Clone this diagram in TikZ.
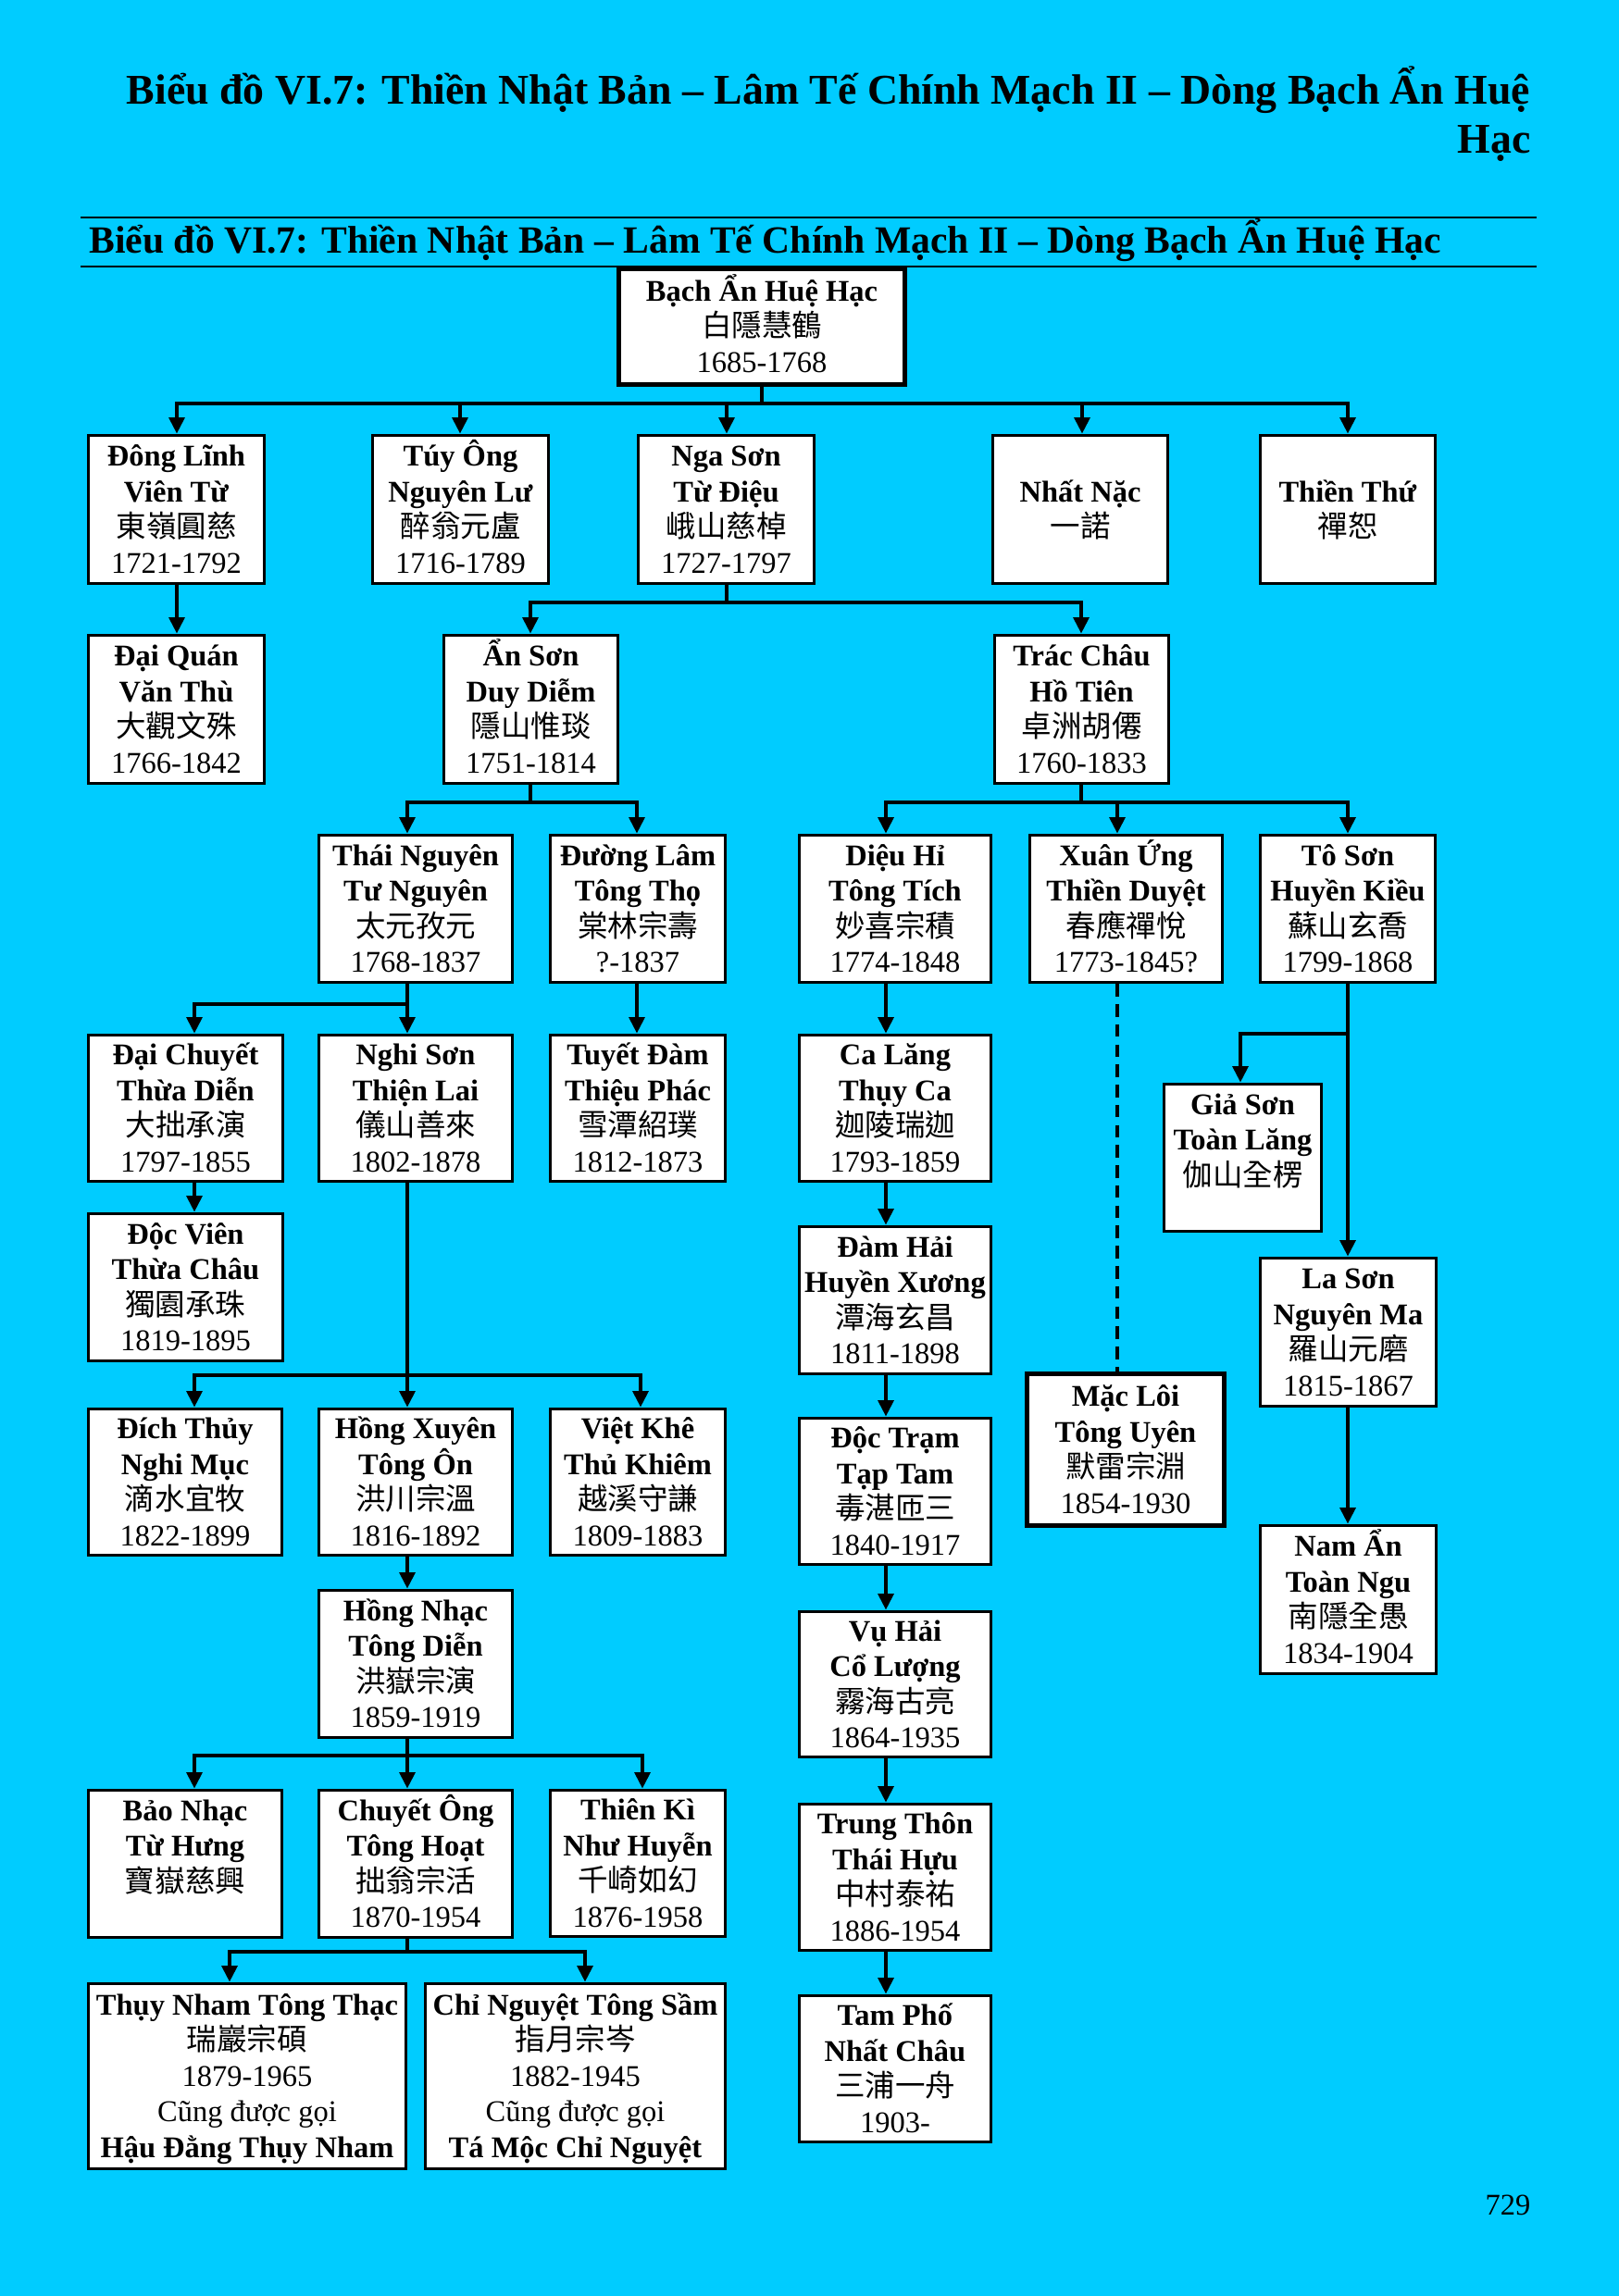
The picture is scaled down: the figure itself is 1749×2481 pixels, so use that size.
\documentclass[tikz,border=0pt]{standalone}
\usepackage{fontspec}
\setmainfont{Liberation Serif}
\newfontfamily\cjk{Noto Sans CJK TC}
\usetikzlibrary{arrows.meta}
\definecolor{bg}{RGB}{0,204,255}
\newcommand{\zst}{\rule[-2.88pt]{0pt}{13.09pt}}
\newcommand{\znm}[1]{\zst\textbf{#1}}
\newcommand{\zch}[1]{\zst{\cjk #1}}
\newcommand{\zyr}[1]{\zst #1}
\newcommand{\zfour}[4]{\znm{#1}\\\znm{#2}\\\zch{#3}\\\zyr{#4}}
\newcommand{\zbx}[7][]{\node[box,#1,minimum width={(#4-#3-3)*0.34pt},minimum height={(#6-#5-3)*0.34pt}] (#2) at ({(#3+#4)/2},{(#5+#6)/2}) {#7};}
\tikzset{
  box/.style={draw=black, fill=white, line width=1.2pt, align=center, inner sep=0pt,
    font=\fontsize{11.05pt}{13.09pt}\selectfont},
  thickbox/.style={line width=1.8pt},
  conn/.style={line width=1.5pt},
  arr/.style={conn,-{Triangle[length=6pt,width=5.6pt]}},
  arrtwo/.style={conn,{Triangle[length=6pt,width=5.6pt]}-{Triangle[length=6pt,width=5.6pt]}},
  dashconn/.style={line width=1.1pt, dash pattern=on 4.6pt off 2.8pt},
  titleA/.style={inner sep=0pt, font=\fontsize{15.57pt}{18pt}\selectfont\bfseries},
  titleB/.style={inner sep=0pt, font=\fontsize{14.15pt}{17pt}\selectfont\bfseries},
  rulestyle/.style={line width=0.7pt},
}
\begin{document}
\begin{tikzpicture}[x=0.34pt,y=-0.34pt]
\useasboundingbox (0,0) rectangle (1749,2481);
\fill[bg] (0,0) rectangle (1749,2481);

% titles
\node[titleA, anchor=base east] (t1a) at (1654,112) {Biểu đồ VI.7: Thiền Nhật Bản – Lâm Tế Chính Mạch II – Dòng Bạch Ẩn Huệ};
\node[titleA, anchor=base east] (t1b) at (1654,165) {Hạc};
\draw[rulestyle] (87,235) -- (1660,235);
\draw[rulestyle] (87,288) -- (1660,288);
\node[titleB, anchor=base west] (t2) at (96,273) {Biểu đồ VI.7: Thiền Nhật Bản – Lâm Tế Chính Mạch II – Dòng Bạch Ẩn Huệ Hạc};

% boxes
\zbx[thickbox]{root}{667}{979}{289}{417}{\znm{Bạch Ẩn Huệ Hạc}\\\zch{白隱慧鶴}\\\zyr{1685-1768}}
\zbx{dl}{94}{287}{469}{632}{\zfour{Đông Lĩnh}{Viên Từ}{東嶺圓慈}{1721-1792}}
\zbx{ty}{401}{594}{469}{632}{\zfour{Túy Ông}{Nguyên Lư}{醉翁元盧}{1716-1789}}
\zbx{ns}{688}{881}{469}{632}{\zfour{Nga Sơn}{Từ Điệu}{峨山慈棹}{1727-1797}}
\zbx{nn}{1071}{1263}{469}{632}{\znm{Nhất Nặc}\\\zch{一諾}}
\zbx{tt}{1360}{1552}{469}{632}{\znm{Thiền Thứ}\\\zch{禪恕}}

\zbx{dq}{94}{287}{685}{848}{\zfour{Đại Quán}{Văn Thù}{大觀文殊}{1766-1842}}
\zbx{as}{478}{669}{685}{848}{\zfour{Ẩn Sơn}{Duy Diễm}{隱山惟琰}{1751-1814}}
\zbx{tc}{1073}{1264}{685}{848}{\zfour{Trác Châu}{Hồ Tiên}{卓洲胡僊}{1760-1833}}

\zbx{tn}{343}{555}{901}{1063}{\zfour{Thái Nguyên}{Tư Nguyên}{太元孜元}{1768-1837}}
\zbx{dlam}{593}{785}{901}{1063}{\zfour{Đường Lâm}{Tông Thọ}{棠林宗壽}{?-1837}}
\zbx{dh}{862}{1072}{901}{1063}{\zfour{Diệu Hỉ}{Tông Tích}{妙喜宗積}{1774-1848}}
\zbx{xu}{1111}{1322}{901}{1063}{\zfour{Xuân Ứng}{Thiền Duyệt}{春應禪悅}{1773-1845?}}
\zbx{ts}{1360}{1552}{901}{1063}{\zfour{Tô Sơn}{Huyền Kiều}{蘇山玄喬}{1799-1868}}

\zbx{dc}{94}{307}{1117}{1278}{\zfour{Đại Chuyết}{Thừa Diễn}{大拙承演}{1797-1855}}
\zbx{nghi}{343}{555}{1117}{1278}{\zfour{Nghi Sơn}{Thiện Lai}{儀山善來}{1802-1878}}
\zbx{tdam}{593}{785}{1117}{1278}{\zfour{Tuyết Đàm}{Thiệu Phác}{雪潭紹璞}{1812-1873}}
\zbx{cl}{862}{1072}{1117}{1278}{\zfour{Ca Lăng}{Thụy Ca}{迦陵瑞迦}{1793-1859}}
\zbx{gs}{1256}{1429}{1170}{1332}{\znm{Giả Sơn}\\\znm{Toàn Lăng}\\\zch{伽山全楞}\\\zst}

\zbx{dv}{94}{307}{1310}{1472}{\zfour{Độc Viên}{Thừa Châu}{獨園承珠}{1819-1895}}
\zbx{dhai}{862}{1072}{1324}{1486}{\zfour{Đàm Hải}{Huyền Xương}{潭海玄昌}{1811-1898}}
\zbx{ls}{1360}{1553}{1358}{1521}{\zfour{La Sơn}{Nguyên Ma}{羅山元磨}{1815-1867}}

\zbx{dt}{94}{306}{1521}{1682}{\zfour{Đích Thủy}{Nghi Mục}{滴水宜牧}{1822-1899}}
\zbx{hx}{343}{555}{1521}{1682}{\zfour{Hồng Xuyên}{Tông Ôn}{洪川宗溫}{1816-1892}}
\zbx{vk}{593}{785}{1521}{1682}{\zfour{Việt Khê}{Thủ Khiêm}{越溪守謙}{1809-1883}}
\zbx{dtram}{862}{1072}{1531}{1692}{\zfour{Độc Trạm}{Tạp Tam}{毒湛匝三}{1840-1917}}
\zbx[thickbox]{ml}{1108}{1324}{1483}{1650}{\zfour{Mặc Lôi}{Tông Uyên}{默雷宗淵}{1854-1930}}

\zbx{hn}{343}{555}{1717}{1879}{\zfour{Hồng Nhạc}{Tông Diễn}{洪嶽宗演}{1859-1919}}
\zbx{vh}{862}{1072}{1740}{1900}{\zfour{Vụ Hải}{Cổ Lượng}{霧海古亮}{1864-1935}}
\zbx{na}{1360}{1553}{1647}{1810}{\zfour{Nam Ẩn}{Toàn Ngu}{南隱全愚}{1834-1904}}

\zbx{bn}{94}{306}{1933}{2095}{\znm{Bảo Nhạc}\\\znm{Từ Hưng}\\\zch{寶嶽慈興}\\\zst}
\zbx{co}{343}{555}{1933}{2095}{\zfour{Chuyết Ông}{Tông Hoạt}{拙翁宗活}{1870-1954}}
\zbx{tk}{593}{785}{1933}{2094}{\zfour{Thiên Kì}{Như Huyễn}{千崎如幻}{1876-1958}}
\zbx{tth}{862}{1072}{1948}{2109}{\zfour{Trung Thôn}{Thái Hựu}{中村泰祐}{1886-1954}}

\zbx{tnh}{94}{440}{2142}{2345}{\znm{Thụy Nham Tông Thạc}\\\zch{瑞巖宗碩}\\\zyr{1879-1965}\\\zyr{Cũng được gọi}\\\znm{Hậu Đằng Thụy Nham}}
\zbx{cn}{458}{785}{2142}{2345}{\znm{Chỉ Nguyệt Tông Sầm}\\\zch{指月宗岑}\\\zyr{1882-1945}\\\zyr{Cũng được gọi}\\\znm{Tá Mộc Chỉ Nguyệt}}
\zbx{tp}{862}{1072}{2155}{2316}{\zfour{Tam Phố}{Nhất Châu}{三浦一舟}{1903-}}

% page number
\node[inner sep=0pt, anchor=base east, font=\fontsize{11.05pt}{13pt}\selectfont] (pg) at (1654,2393) {729};

% connectors: root
\coordinate (r0) at (823,436);
\coordinate (r1) at (191,436);
\coordinate (r2) at (497,436);
\coordinate (r3) at (785,436);
\coordinate (r4) at (1169,436);
\coordinate (r5) at (1456,436);
\draw[conn] (root.south -| r0) -- (r0);
\draw[arrtwo] (dl.north -| r1) -- (r1) -- (r5) -- (tt.north -| r5);
\draw[arr] (r2) -- (ty.north -| r2);
\draw[arr] (r3) -- (ns.north -| r3);
\draw[arr] (r4) -- (nn.north -| r4);

% dl -> dq
\draw[arr] (dl.south -| r1) -- (dq.north -| r1);

% ns -> as, tc
\coordinate (n0) at (785,651);
\coordinate (n1) at (573,651);
\coordinate (n2) at (1168,651);
\draw[conn] (ns.south -| n0) -- (n0);
\draw[arrtwo] (as.north -| n1) -- (n1) -- (n2) -- (tc.north -| n2);

% as -> tn, dlam
\coordinate (a0) at (573,867);
\coordinate (a1) at (440,867);
\coordinate (a2) at (688,867);
\draw[conn] (as.south -| a0) -- (a0);
\draw[arrtwo] (tn.north -| a1) -- (a1) -- (a2) -- (dlam.north -| a2);

% tc -> dh, xu, ts
\coordinate (c0) at (1168,867);
\coordinate (c1) at (957,867);
\coordinate (c2) at (1207,867);
\coordinate (c3) at (1456,867);
\draw[conn] (tc.south -| c0) -- (c0);
\draw[arrtwo] (dh.north -| c1) -- (c1) -- (c3) -- (ts.north -| c3);
\draw[arr] (c2) -- (xu.north -| c2);

% tn -> dc, nghi
\coordinate (t0) at (440,1085);
\coordinate (t1) at (210,1085);
\draw[arr] (tn.south -| t0) -- (nghi.north -| t0);
\draw[arr] (t0) -- (t1) -- (dc.north -| t1);

% dlam -> tdam
\draw[arr] (dlam.south -| a2) -- (tdam.north -| a2);

% dh chain
\draw[arr] (dh.south -| c1) -- (cl.north -| c1);
\draw[arr] (cl.south -| c1) -- (dhai.north -| c1);
\draw[arr] (dhai.south -| c1) -- (dtram.north -| c1);
\draw[arr] (dtram.south -| c1) -- (vh.north -| c1);
\draw[arr] (vh.south -| c1) -- (tth.north -| c1);
\draw[arr] (tth.south -| c1) -- (tp.north -| c1);

% xu -> ml (dashed)
\draw[dashconn] (xu.south -| c2) -- (ml.north -| c2);

% ts -> gs, ls
\coordinate (s0) at (1456,1117);
\coordinate (s1) at (1340,1117);
\draw[arr] (ts.south -| s0) -- (ls.north -| s0);
\draw[arr] (s0) -- (s1) -- (gs.north -| s1);
\draw[arr] (ls.south -| s0) -- (na.north -| s0);

% dc -> dv
\draw[arr] (dc.south -| t1) -- (dv.north -| t1);

% nghi -> dt, hx, vk
\coordinate (g0) at (440,1486);
\coordinate (g1) at (210,1486);
\coordinate (g2) at (692,1486);
\draw[arr] (nghi.south -| g0) -- (hx.north -| g0);
\draw[arrtwo] (dt.north -| g1) -- (g1) -- (g2) -- (vk.north -| g2);

% hx -> hn
\draw[arr] (hx.south -| g0) -- (hn.north -| g0);

% hn -> bn, co, tk
\coordinate (h0) at (440,1897);
\coordinate (h1) at (210,1897);
\coordinate (h2) at (694,1897);
\draw[arr] (hn.south -| h0) -- (co.north -| h0);
\draw[arrtwo] (bn.north -| h1) -- (h1) -- (h2) -- (tk.north -| h2);

% co -> tnh, cn
\coordinate (o0) at (440,2109);
\coordinate (o1) at (248,2109);
\coordinate (o2) at (632,2109);
\draw[conn] (co.south -| o0) -- (o0);
\draw[arrtwo] (tnh.north -| o1) -- (o1) -- (o2) -- (cn.north -| o2);
\end{tikzpicture}
\end{document}
